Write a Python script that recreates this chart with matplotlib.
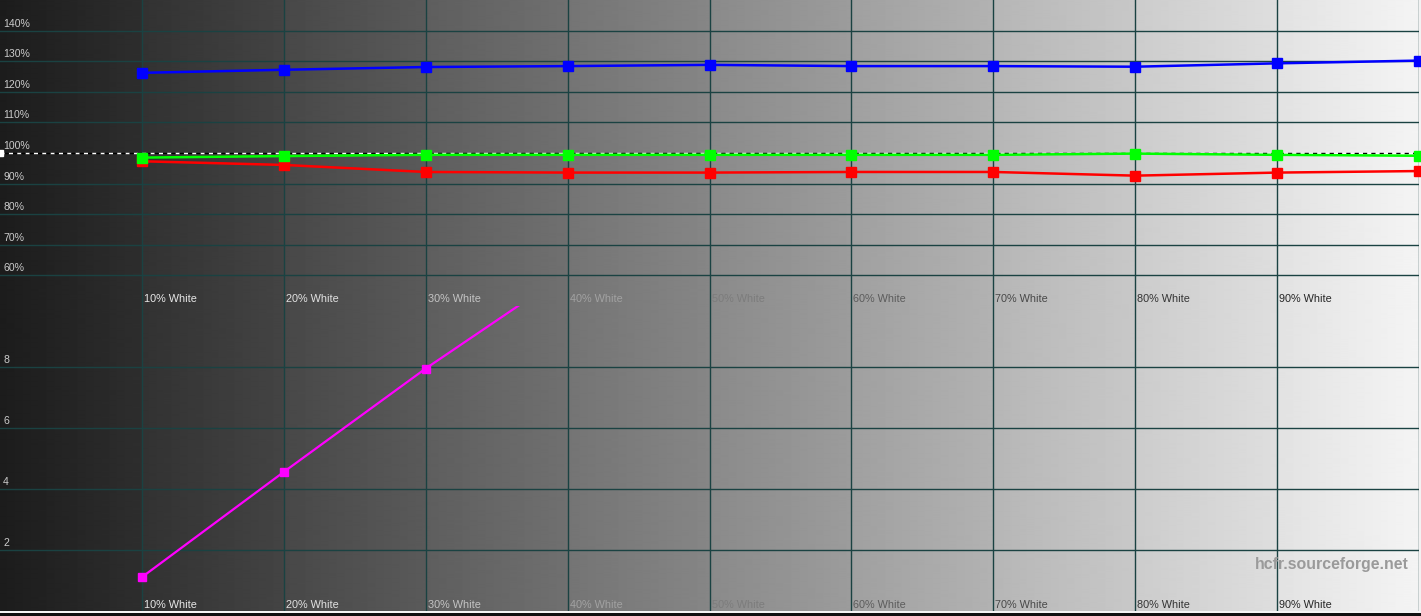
import numpy as np
import matplotlib
matplotlib.use('Agg')
import matplotlib.pyplot as plt
from matplotlib.patches import Rectangle

# ---- data ----
levels = [10, 20, 30, 40, 50, 60, 70, 80, 90, 100]
red = [97.3, 96.1, 93.8, 93.6, 93.6, 93.8, 93.8, 92.6, 93.6, 94.1]
green = [98.5, 99.0, 99.4, 99.4, 99.4, 99.4, 99.4, 99.8, 99.4, 99.1]
blue = [126.2, 127.2, 128.1, 128.4, 128.8, 128.4, 128.4, 128.2, 129.3, 130.2]
de_levels = [10, 20, 30, 40]
delta_e = [1.11, 4.56, 7.95, 11.1]

pct_ticks = [140, 130, 120, 110, 100, 90, 80, 70, 60]
pct_labels = ['140%', '130%', '120%', '110%', '100%', '90%', '80%', '70%', '60%']
de_ticks = [8, 6, 4, 2]
de_labels = ['8', '6', '4', '2']
x_labels = ['10% White', '20% White', '30% White', '40% White', '50% White',
            '60% White', '70% White', '80% White', '90% White']
x_label_grey = [232, 226, 196, 162, 124, 92, 72, 52, 38]

W, H = 1421, 616
GRID = '#1a4242'
FONT = 'Liberation Sans'

fig = plt.figure(figsize=(W / 100, H / 100), dpi=100)
fig.patch.set_facecolor('#f2f2f2')
xr = 1419 / W

# background: grey ramp, stepped a little at each 10% column
bg = fig.add_axes([0, 0, xr, 1], zorder=0)
xs = np.linspace(0, 100, 1419, endpoint=False)
seg = np.floor(xs / 10)
lev = (28 + 22 * seg + 18 * (xs - 10 * seg) / 10) / 255.0
img = np.tile(lev, (2, 1))
bg.imshow(img, cmap='gray', vmin=0, vmax=1, aspect='auto', extent=[0, 100, 0, 1],
          interpolation='bilinear')
bg.set_xlim(0, 100); bg.set_ylim(0, 1); bg.axis('off')

def setup(ax, ylo, yhi, ticks, labels):
    ax.set_facecolor('none')
    ax.set_xlim(0, 100); ax.set_ylim(ylo, yhi)
    for s in ax.spines.values():
        s.set_visible(False)
    ax.set_xticks([]); ax.set_yticks([])
    for v in range(10, 101, 10):
        ax.axvline(v, color=GRID, lw=1.0, zorder=1)
    for t, lab in zip(ticks, labels):
        ax.axhline(t, color=GRID, lw=1.0, zorder=1)
        ax.annotate(lab, (0, t), xytext=(3, 2), textcoords='offset pixels',
                    ha='left', va='bottom', color='#cccccc', fontsize=7.6, family=FONT)

def xlabels(ax, yfrac):
    for v, lab, g in zip(levels, x_labels, x_label_grey):
        c = (g / 255,) * 3
        ax.annotate(lab, (v, yfrac), xycoords=('data', 'axes fraction'), xytext=(2, 0),
                    textcoords='offset pixels', ha='left', va='center', color=c,
                    fontsize=7.8, family=FONT)

# ---- top panel: RGB levels ----
top = fig.add_axes([0, (H - 306) / H, xr, 306 / H], zorder=2)
top.patch.set_visible(False)
setup(top, 50, 150, [t for t in pct_ticks if t != 100], [l for t, l in zip(pct_ticks, pct_labels) if t != 100])
top.annotate('100%', (0, 100), xytext=(3, 2), textcoords='offset pixels',
             ha='left', va='bottom', color='#cccccc', fontsize=7.6, family=FONT)
top.plot([0, 100], [100, 100], color='white', lw=1.0, ls=(0, (3, 3)), zorder=2)
top.plot([0, 100], [100, 100], color='black', lw=1.0, ls=(3, (3, 3)), zorder=2)
top.plot([0], [100], marker='s', color='white', ms=5, clip_on=False, zorder=6)
kw = dict(lw=1.8, marker='s', ms=6.5, zorder=4, clip_on=False)
top.plot(levels, blue, color='#0000ff', **kw)
top.plot(levels, red, color='#ff0000', **kw)
top.plot(levels, green, color='#00ff00', **kw)
xlabels(top, 7 / 306)

# ---- bottom panel: delta E ----
bot = fig.add_axes([0, (H - 611) / H, xr, 305 / H], zorder=2)
bot.patch.set_visible(False)
setup(bot, 0, 10, de_ticks, de_labels)
bot.plot(de_levels, delta_e, color='#ff00ff', lw=1.6, marker='s', ms=6, zorder=4)
xlabels(bot, 6 / 305)
bot.text(0.9925, 0.153, 'hcfr.sourceforge.net', transform=bot.transAxes, ha='right',
         va='center', color='#9a9a9a', fontsize=11.4, fontweight='bold', family=FONT)

# bottom strip
fig.patches.append(Rectangle((0, 0), 1, 4 / H, transform=fig.transFigure,
                             facecolor='#101010', edgecolor='none', zorder=5))
fig.patches.append(Rectangle((0, 3 / H), 1, 2 / H, transform=fig.transFigure,
                             facecolor='#f4f4f4', edgecolor='none', zorder=5))

fig.savefig('out.png', dpi=100)
